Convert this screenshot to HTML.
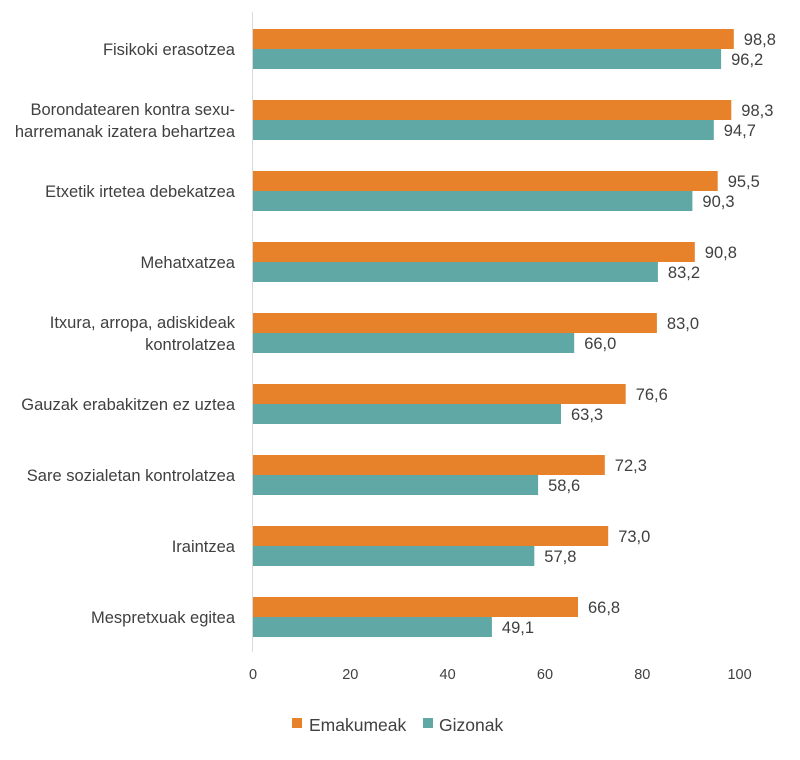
<!DOCTYPE html>
<html><head><meta charset="utf-8"><style>
body{margin:0;background:#fff;}
svg text{font-family:"Liberation Sans",sans-serif;fill:#404040;}
.o{fill:#e8822a}.t{fill:#5fa8a5}
</style></head><body>
<svg width="800" height="755" xmlns="http://www.w3.org/2000/svg">
<line x1="252.5" y1="12" x2="252.5" y2="652" stroke="#d9d9d9" stroke-width="1"/>
<g font-size="16.5" text-anchor="end">
<text x="235" y="55">Fisikoki erasotzea</text>
<text x="235" y="115">Borondatearen kontra sexu-</text>
<text x="235" y="137">harremanak izatera behartzea</text>
<text x="235" y="197">Etxetik irtetea debekatzea</text>
<text x="235" y="268">Mehatxatzea</text>
<text x="235" y="328">Itxura, arropa, adiskideak</text>
<text x="235" y="350">kontrolatzea</text>
<text x="235" y="410">Gauzak erabakitzen ez uztea</text>
<text x="235" y="481">Sare sozialetan kontrolatzea</text>
<text x="235" y="552">Iraintzea</text>
<text x="235" y="623">Mespretxuak egitea</text>
</g>
<g>
<rect class="o" x="253" y="29" width="480.8" height="20"/><rect class="t" x="253" y="49" width="468.1" height="20"/>
<rect class="o" x="253" y="100" width="478.3" height="20"/><rect class="t" x="253" y="120" width="460.8" height="20"/>
<rect class="o" x="253" y="171" width="464.7" height="20"/><rect class="t" x="253" y="191" width="439.4" height="20"/>
<rect class="o" x="253" y="242" width="441.8" height="20"/><rect class="t" x="253" y="262" width="404.9" height="20"/>
<rect class="o" x="253" y="313" width="403.9" height="20"/><rect class="t" x="253" y="333" width="321.2" height="20"/>
<rect class="o" x="253" y="384" width="372.7" height="20"/><rect class="t" x="253" y="404" width="308.0" height="20"/>
<rect class="o" x="253" y="455" width="351.8" height="20"/><rect class="t" x="253" y="475" width="285.1" height="20"/>
<rect class="o" x="253" y="526" width="355.2" height="20"/><rect class="t" x="253" y="546" width="281.3" height="20"/>
<rect class="o" x="253" y="597" width="325.0" height="20"/><rect class="t" x="253" y="617" width="238.9" height="20"/>
</g>
<g font-size="16.5">
<text x="743.8" y="45">98,8</text><text x="731.1" y="65">96,2</text>
<text x="741.3" y="116">98,3</text><text x="723.8" y="136">94,7</text>
<text x="727.7" y="187">95,5</text><text x="702.4" y="207">90,3</text>
<text x="704.8" y="258">90,8</text><text x="667.9" y="278">83,2</text>
<text x="666.9" y="329">83,0</text><text x="584.2" y="349">66,0</text>
<text x="635.7" y="400">76,6</text><text x="571.0" y="420">63,3</text>
<text x="614.8" y="471">72,3</text><text x="548.1" y="491">58,6</text>
<text x="618.2" y="542">73,0</text><text x="544.3" y="562">57,8</text>
<text x="588.0" y="613">66,8</text><text x="501.9" y="633">49,1</text>
</g>
<g font-size="14.5" text-anchor="middle">
<text x="253" y="679">0</text><text x="350.3" y="679">20</text><text x="447.6" y="679">40</text><text x="545" y="679">60</text><text x="642.3" y="679">80</text><text x="739.6" y="679">100</text>
</g>
<rect x="292" y="718" width="10" height="10" fill="#e8822a"/>
<text x="309" y="731" font-size="17.5">Emakumeak</text>
<rect x="423" y="718" width="10" height="10" fill="#5fa8a5"/>
<text x="439" y="731" font-size="17.5">Gizonak</text>
</svg>
</body></html>
